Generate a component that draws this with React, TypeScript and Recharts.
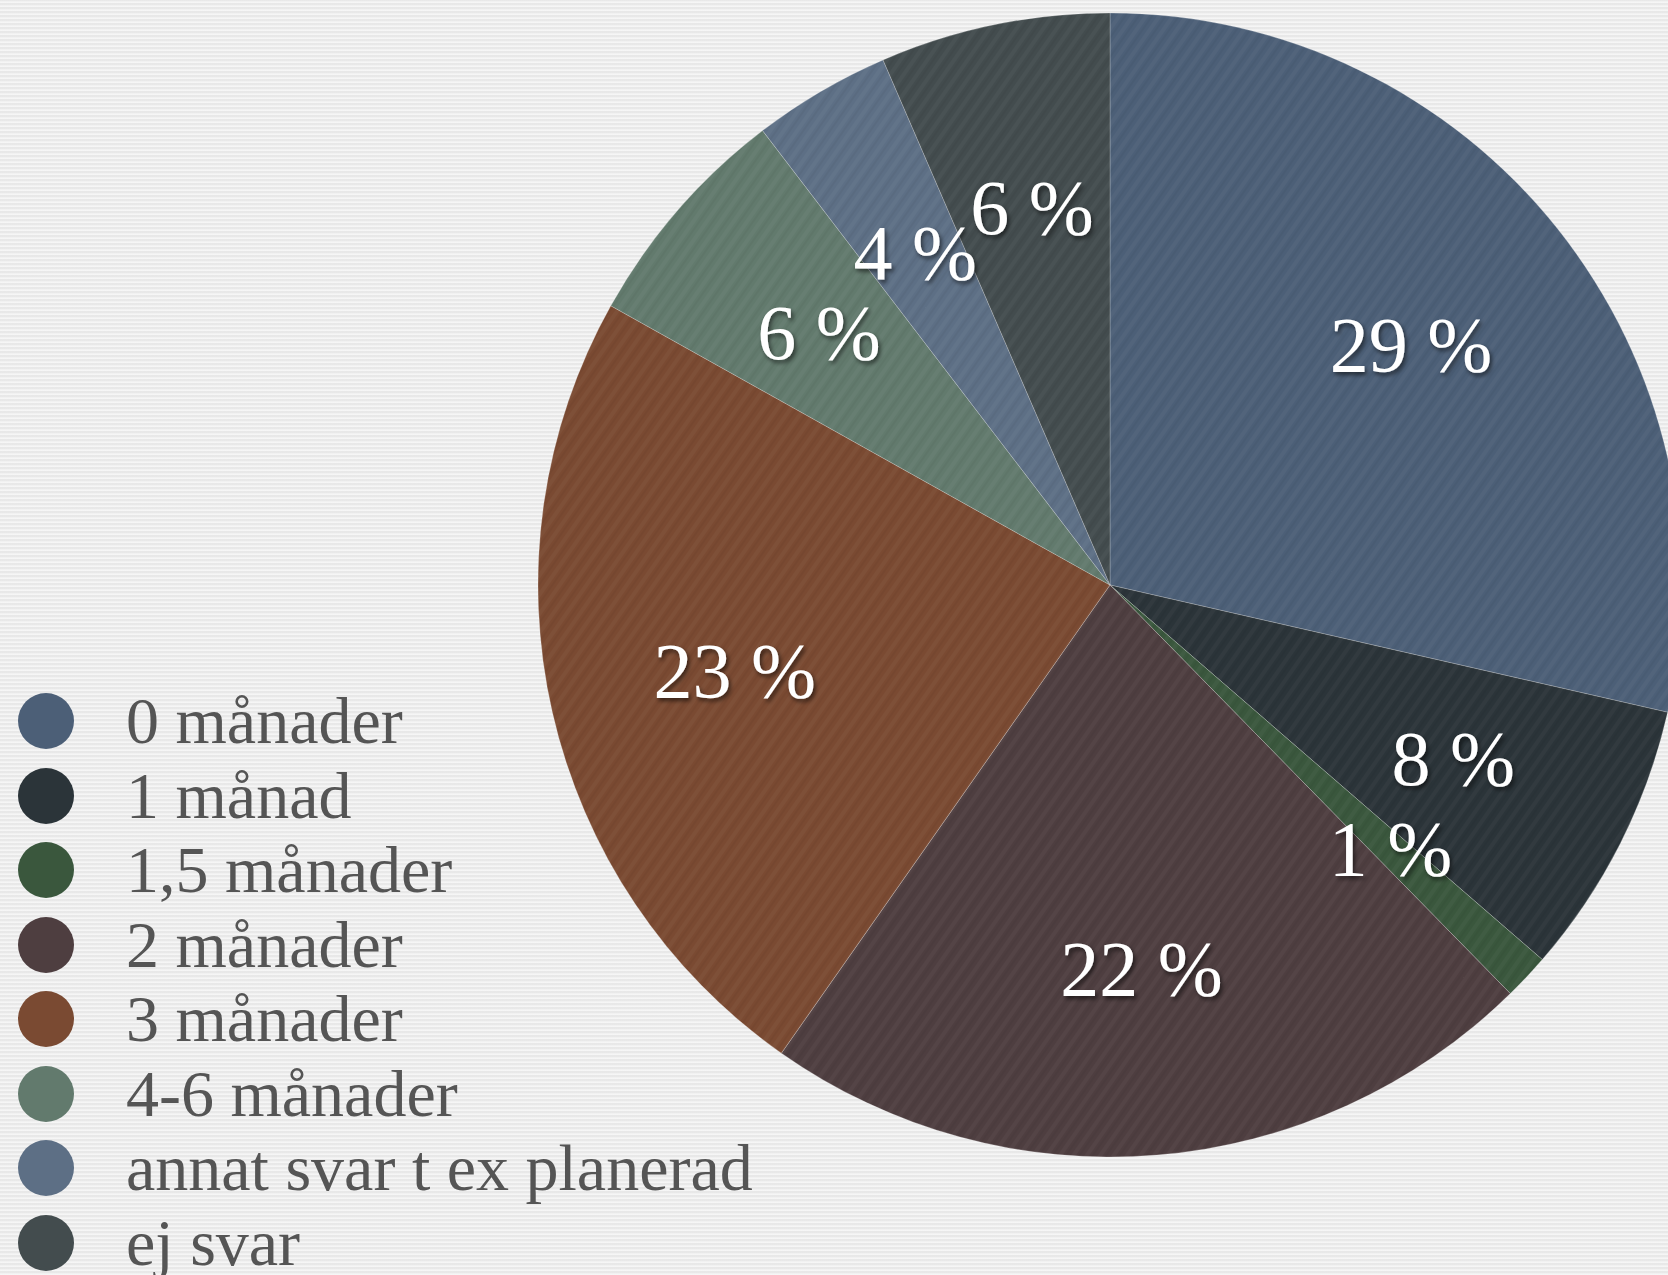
import { Cell, Legend, Pie, PieChart } from "recharts";

// Answers (counts) per category, percentages are computed from these
const categories = [
  "0 månader",
  "1 månad",
  "1,5 månader",
  "2 månader",
  "3 månader",
  "4-6 månader",
  "annat svar t ex planerad",
  "ej svar",
];
const counts = [22, 6, 1, 17, 18, 5, 3, 5];
const colors = ["#4c5f77", "#2b3439", "#3a573d", "#4e3e40", "#7a4a32", "#627a6d", "#5d6f85", "#434c4e"];

const total = counts.reduce((a, b) => a + b, 0);
const data = categories.map((name, i) => ({ name, value: counts[i] }));

const LABEL_FONT = "'Liberation Serif', 'DejaVu Serif', serif";

function renderLabel(props: any) {
  const { cx, cy, midAngle, outerRadius, value } = props;
  const RAD = Math.PI / 180;
  const r = outerRadius * 0.673;
  const x = cx + r * Math.cos(-midAngle * RAD);
  const y = cy + r * Math.sin(-midAngle * RAD);
  const pct = Math.round((value / total) * 100);
  return (
    <text
      x={x}
      y={y + 26}
      fill="#ffffff"
      textAnchor="middle"
      fontFamily={LABEL_FONT}
      fontSize={78}
      filter="url(#labelShadow)"
    >
      {`${pct} %`}
    </text>
  );
}

function LegendList() {
  return (
    <div style={{ fontFamily: LABEL_FONT }}>
      {categories.map((name, i) => (
        <div key={name} style={{ display: "flex", alignItems: "center", height: 74.5 }}>
          <span
            style={{
              display: "inline-block",
              width: 56,
              height: 56,
              borderRadius: "50%",
              background: colors[i],
              marginLeft: 18,
              marginRight: 52,
            }}
          />
          <span style={{ fontSize: 66, lineHeight: "74.5px", color: "#555555", whiteSpace: "nowrap" }}>{name}</span>
        </div>
      ))}
    </div>
  );
}

export default function App() {
  return (
    <div
      style={{
        position: "fixed",
        left: 0,
        top: 0,
        width: 1668,
        height: 1275,
        overflow: "hidden",
        backgroundColor: "#ececec",
        backgroundImage:
          "repeating-linear-gradient(0deg, rgba(255,255,255,0.5) 0px, rgba(255,255,255,0.5) 1px, rgba(0,0,0,0) 2px, rgba(0,0,0,0.03) 3px, rgba(0,0,0,0) 4px)",
      }}
    >
      <PieChart width={1700} height={1275} margin={{ top: 0, right: 0, bottom: 0, left: 0 }}>
        <defs>
          <filter id="labelShadow" x="-20%" y="-20%" width="140%" height="140%">
            <feDropShadow dx="2" dy="3" stdDeviation="2" floodColor="#000000" floodOpacity="0.55" />
          </filter>
          <pattern id="grain" width="11" height="11" patternUnits="userSpaceOnUse" patternTransform="rotate(-55)">
            <rect width="11" height="4" fill="rgba(255,255,255,0.03)" />
            <rect y="6" width="11" height="2" fill="rgba(0,0,0,0.035)" />
          </pattern>
        </defs>
        <Pie
          data={data}
          dataKey="value"
          nameKey="name"
          cx={1110}
          cy={585}
          outerRadius={572}
          startAngle={90}
          endAngle={-270}
          stroke="rgba(255,255,255,0.22)"
          strokeWidth={1}
          labelLine={false}
          isAnimationActive={false}
        >
          {data.map((d, i) => (
            <Cell key={d.name} fill={colors[i]} />
          ))}
        </Pie>
        <Pie
          data={data}
          dataKey="value"
          cx={1110}
          cy={585}
          outerRadius={572}
          startAngle={90}
          endAngle={-270}
          fill="url(#grain)"
          stroke="none"
          label={renderLabel}
          labelLine={false}
          legendType="none"
          isAnimationActive={false}
        />
        <Legend content={() => <LegendList />} wrapperStyle={{ left: 0, top: 684, width: 900 }} />
      </PieChart>
    </div>
  );
}
